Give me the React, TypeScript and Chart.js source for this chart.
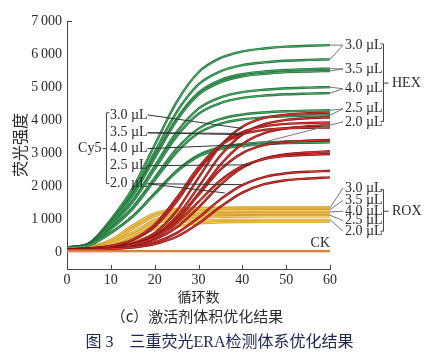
import { useEffect, useRef } from 'react';
import { Chart, registerables } from 'chart.js';
Chart.register(...registerables);

const SERIF = "'Liberation Serif', 'Noto Sans CJK SC', serif";
const CJK = "'Noto Sans CJK SC', 'Liberation Serif', sans-serif";

const cycles = [0, 5, 10, 15, 20, 25, 30, 35, 40, 45, 50, 55, 60];
const xTickValues = [0, 10, 20, 30, 40, 50, 60];
const yTickValues = [0, 1000, 2000, 3000, 4000, 5000, 6000, 7000];

// HEX (green)
const hex30a = [150, 280, 1000, 1950, 3250, 4550, 5450, 5880, 6080, 6170, 6225, 6250, 6270];
const hex30b = [145, 270, 940, 1820, 3035, 4240, 5080, 5475, 5665, 5750, 5800, 5825, 5840];
const hex35a = [150, 265, 900, 1740, 2895, 4040, 4835, 5215, 5390, 5475, 5520, 5545, 5560];
const hex35b = [140, 260, 890, 1720, 2855, 3990, 4775, 5150, 5325, 5405, 5455, 5475, 5490];
const hex40a = [150, 250, 825, 1575, 2610, 3635, 4350, 4690, 4850, 4920, 4965, 4985, 5000];
const hex40b = [145, 250, 800, 1525, 2520, 3510, 4195, 4520, 4675, 4745, 4785, 4805, 4820];
const hex25a = [150, 235, 725, 1370, 2255, 3135, 3745, 4035, 4170, 4235, 4270, 4290, 4300];
const hex25b = [140, 235, 705, 1325, 2180, 3025, 3615, 3895, 4025, 4085, 4120, 4140, 4150];
const hex20a = [150, 220, 600, 1100, 1790, 2470, 2945, 3175, 3280, 3330, 3355, 3370, 3380];
const hex20b = [140, 215, 590, 1085, 1760, 2435, 2905, 3125, 3230, 3280, 3310, 3320, 3330];

// Cy5 (red)
const cy530a = [90, 105, 150, 275, 590, 1255, 2260, 3225, 3805, 4070, 4170, 4210, 4230];
const cy530b = [90, 105, 145, 255, 515, 1080, 1985, 2930, 3570, 3880, 4010, 4060, 4090];
const cy535a = [95, 120, 195, 370, 780, 1535, 2475, 3230, 3640, 3815, 3890, 3915, 3930];
const cy535b = [90, 105, 145, 245, 485, 985, 1785, 2655, 3280, 3610, 3755, 3815, 3850];
const cy540a = [95, 120, 195, 390, 840, 1645, 2575, 3240, 3570, 3705, 3755, 3770, 3780];
const cy540b = [90, 100, 140, 235, 475, 975, 1740, 2505, 3005, 3245, 3340, 3380, 3400];
const cy525a = [90, 100, 130, 205, 385, 755, 1360, 2045, 2560, 2845, 2970, 3025, 3060];
const cy525b = [90, 105, 140, 235, 450, 885, 1530, 2175, 2610, 2825, 2920, 2955, 2980];
const cy520a = [85, 95, 115, 175, 305, 585, 1050, 1605, 2035, 2280, 2395, 2440, 2470];
const cy520b = [85, 90, 110, 150, 255, 475, 875, 1380, 1810, 2065, 2185, 2235, 2270];

// ROX (yellow)
const rox30a = [110, 165, 380, 820, 1180, 1315, 1350, 1355, 1360, 1360, 1360, 1360, 1360];
const rox30b = [105, 150, 325, 715, 1105, 1280, 1325, 1335, 1340, 1340, 1340, 1340, 1340];
const rox35a = [105, 155, 335, 735, 1100, 1240, 1280, 1285, 1290, 1290, 1290, 1290, 1290];
const rox35b = [100, 140, 270, 595, 985, 1185, 1250, 1265, 1270, 1270, 1270, 1270, 1270];
const rox40a = [105, 140, 280, 600, 950, 1120, 1170, 1185, 1190, 1190, 1190, 1190, 1190];
const rox40b = [100, 125, 225, 485, 845, 1065, 1140, 1165, 1170, 1170, 1170, 1170, 1170];
const rox25a = [100, 130, 245, 530, 865, 1040, 1090, 1105, 1110, 1110, 1110, 1110, 1110];
const rox25b = [100, 120, 195, 400, 720, 960, 1050, 1080, 1087, 1090, 1090, 1090, 1090];
const rox20a = [100, 120, 200, 415, 715, 895, 960, 980, 985, 985, 985, 985, 985];
const rox20b = [95, 110, 160, 305, 560, 780, 880, 915, 920, 925, 925, 925, 925];

// CK
const ck = [40, 40, 40, 40, 40, 40, 40, 40, 40, 40, 40, 40, 40];

const volumeLabels = ['3.0 µL', '3.5 µL', '4.0 µL', '2.5 µL', '2.0 µL'];
const hexLabelY = [6270, 5550, 4950, 4345, 3950];
const roxLabelY = [1950, 1570, 1245, 965, 645];
const cy5LabelY = [4160, 3620, 3140, 2625, 2080];
const cy5LabelX = 9.8;

const hexTargets: number[][][] = [
  [[60, 6270], [60, 5840]],
  [[60, 5560], [60, 5490]],
  [[60, 5000], [60, 4820]],
  [[60, 4300], [60, 4150]],
  [[40, 3170]],
];
const roxTargets: number[][][] = [
  [[60, 1350]],
  [[60, 1300]],
  [[60, 1228]],
  [[60, 1125]],
  [[60, 995]],
];
const cy5Targets: number[][][] = [
  [[40, 3750]],
  [[40, 3600], [40, 3560]],
  [[40, 3260]],
  [[42, 2650]],
  [[40, 2050], [36, 1800]],
];
const hexBracket = [6305, 5121, 3962];
const roxBracket = [1900, 1246, 643];
const cy5Bracket = [4225, 3140, 2082];

type Group = { arrays: number[][]; outline: string; core: string };
const groups: Group[] = [
  { arrays: [rox30a, rox30b, rox35a, rox35b, rox40a, rox40b, rox25a, rox25b, rox20a, rox20b], outline: '#cf9a2a', core: '#f6cc5e' },
  { arrays: [hex30a, hex30b, hex35a, hex35b, hex40a, hex40b, hex25a, hex25b, hex20a, hex20b], outline: '#25653a', core: '#3fae5f' },
  { arrays: [cy530a, cy530b, cy535a, cy535b, cy540a, cy540b, cy525a, cy525b, cy520a, cy520b], outline: '#761616', core: '#e1352e' },
  { arrays: [ck], outline: '#c04a2a', core: '#f0a540' },
];

const annotPlugin = {
  id: 'annot',
  afterDatasetsDraw(chart: any) {
    const { ctx, chartArea, scales } = chart;
    const { left, right, top, bottom } = chartArea;
    const xs = scales.x;
    const ys = scales.y;
    const px = (c: number) => xs.getPixelForValue(c);
    const py = (v: number) => ys.getPixelForValue(v);
    const line = (x1: number, y1: number, x2: number, y2: number) => {
      ctx.beginPath();
      ctx.moveTo(x1, y1);
      ctx.lineTo(x2, y2);
      ctx.stroke();
    };
    ctx.save();
    ctx.strokeStyle = '#444';
    ctx.lineWidth = 1;
    xTickValues.forEach((t) => {
      if (t === 0) return;
      const X = Math.round(px(t)) + 0.5;
      line(X, bottom, X, bottom - 4);
    });
    line(left, Math.round(top) + 0.5, left + 5, Math.round(top) + 0.5);

    ctx.font = `14px ${SERIF}`;
    ctx.fillStyle = '#2a2a2a';
    ctx.textBaseline = 'middle';

    const labelX = right + 15;
    const drawRight = (labelY: number[], targets: number[][][], bracket: number[], name: string) => {
      ctx.strokeStyle = '#777';
      ctx.lineWidth = 1;
      labelY.forEach((v, i) => {
        const Y = py(v);
        targets[i].forEach(([c, val]) => line(labelX - 2, Y, px(c), py(val)));
      });
      ctx.textAlign = 'left';
      labelY.forEach((v, i) => ctx.fillText(volumeLabels[i], labelX, py(v)));
      ctx.strokeStyle = '#444';
      const bx = right + 53.5;
      const [bt, bm, bb] = bracket.map(py);
      line(bx, bt, bx, bb);
      line(bx - 3, bt, bx, bt);
      line(bx - 3, bb, bx, bb);
      line(bx, bm, bx + 5, bm);
      ctx.fillText(name, right + 62, bm);
    };
    drawRight(hexLabelY, hexTargets, hexBracket, 'HEX');
    drawRight(roxLabelY, roxTargets, roxBracket, 'ROX');

    const cx = px(cy5LabelX);
    ctx.textAlign = 'left';
    ctx.strokeStyle = '#333';
    cy5LabelY.forEach((v, i) => {
      const Y = py(v);
      const w = ctx.measureText(volumeLabels[i]).width;
      cy5Targets[i].forEach(([c, val]) => line(cx + w, Y, px(c), py(val)));
      ctx.fillText(volumeLabels[i], cx, Y);
    });
    ctx.strokeStyle = '#444';
    const cbx = cx - 3.5;
    const [ct, cm, cb] = cy5Bracket.map(py);
    line(cbx, ct, cbx, cb);
    line(cbx, ct, cbx + 3, ct);
    line(cbx, cb, cbx + 3, cb);
    line(cbx - 4, cm, cbx, cm);
    ctx.textAlign = 'right';
    ctx.fillText('Cy5', cbx - 5, cm);

    ctx.textAlign = 'right';
    ctx.textBaseline = 'alphabetic';
    ctx.fillText('CK', px(60), py(40) - 4);
    ctx.restore();
  },
};

export default function App() {
  const ref = useRef<HTMLCanvasElement>(null);
  useEffect(() => {
    document.body.style.margin = '0';
    const datasets: any[] = [];
    let k = 0;
    groups.forEach((g) => {
      g.arrays.forEach((arr) => {
        const data = cycles.map((c, i) => ({ x: c, y: arr[i] }));
        datasets.push({ data, borderColor: g.outline, borderWidth: 2.4, pointRadius: 0, cubicInterpolationMode: 'monotone', order: 1000 - 2 * k });
        datasets.push({ data, borderColor: g.core, borderWidth: 1.1, pointRadius: 0, cubicInterpolationMode: 'monotone', order: 1000 - 2 * k - 1 });
        k++;
      });
    });
    const chart = new Chart(ref.current!, {
      type: 'line',
      data: { datasets },
      options: {
        animation: false,
        responsive: false,
        devicePixelRatio: 1,
        layout: { padding: { top: 21, right: 113, bottom: 50, left: 0 } },
        plugins: { legend: { display: false }, tooltip: { enabled: false } },
        scales: {
          x: {
            type: 'linear',
            min: 0,
            max: 60,
            afterFit: (s: any) => { s.height = 40; },
            afterBuildTicks: (s: any) => { s.ticks = xTickValues.map((v) => ({ value: v })); },
            ticks: { font: { family: SERIF, size: 14 }, color: '#2a2a2a', padding: 3 },
            grid: { display: true, drawOnChartArea: false, drawTicks: false },
            border: { display: true, color: '#444', width: 1 },
            title: { display: true, text: '循环数', font: { family: CJK, size: 14 }, color: '#2a2a2a', padding: { top: 0, bottom: 4 } },
          },
          y: {
            type: 'linear',
            min: -500,
            max: 7000,
            afterFit: (s: any) => { s.width = 67; },
            afterBuildTicks: (s: any) => { s.ticks = yTickValues.map((v) => ({ value: v })); },
            ticks: {
              font: { family: SERIF, size: 14 },
              color: '#2a2a2a',
              padding: 5,
              callback: (v: any) => (v === 0 ? '0' : `${Math.floor(v / 1000)}\u2009000`),
            },
            grid: { display: true, drawOnChartArea: false, drawTicks: false },
            border: { display: true, color: '#444', width: 1 },
            title: { display: true, text: '荧光强度', font: { family: CJK, size: 16 }, color: '#2a2a2a', padding: { top: 10, bottom: 0 } },
          },
        },
      },
      plugins: [annotPlugin],
    } as any);
    return () => chart.destroy();
  }, []);
  return (
    <div style={{ position: 'relative', width: 443, height: 359 }}>
      <canvas ref={ref} width={443} height={359} style={{ display: 'block', width: 443, height: 359 }} />
      <div style={{ position: 'absolute', left: 0, top: 306, width: 394, textAlign: 'center', font: `15px/20px ${CJK}`, color: '#2a2a2a' }}>
        （c）激活剂体积优化结果
      </div>
      <div style={{ position: 'absolute', left: 0, top: 332, width: 439, textAlign: 'center', font: `16px/20px ${SERIF}`, color: '#1d2650' }}>
        图 3　三重荧光ERA检测体系优化结果
      </div>
    </div>
  );
}
